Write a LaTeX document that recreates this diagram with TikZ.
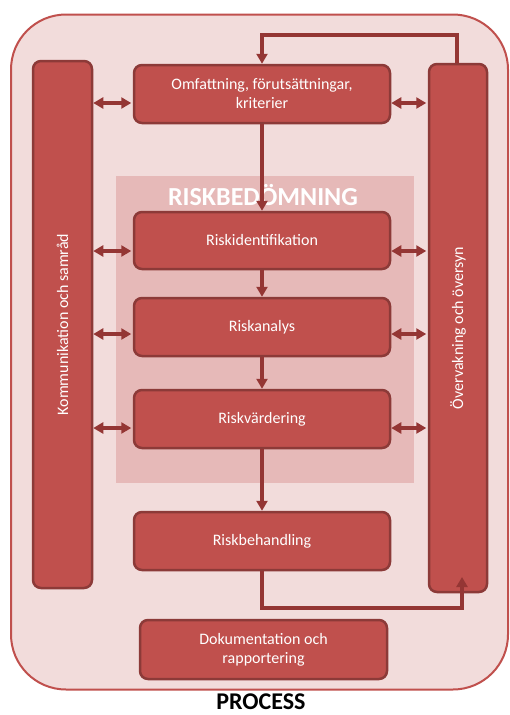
\documentclass[tikz,border=0pt]{standalone}
\usepackage{fontspec}
\setmainfont{Carlito}
\usetikzlibrary{arrows.meta,calc}
\definecolor{boxfill}{HTML}{C0504D}
\definecolor{boxline}{HTML}{8C3A38}
\definecolor{outerfill}{HTML}{F2DCDB}
\definecolor{outerline}{HTML}{C0504D}
\definecolor{areafill}{HTML}{E6B9B8}
\definecolor{arrowcol}{HTML}{943634}
\tikzset{
  stepbox/.style={draw=boxline, line width=2.5pt, fill=boxfill, rounded corners=8pt,
    minimum width=256pt, minimum height=58pt, text=white, align=center,
    font=\fontsize{16}{19}\selectfont, inner sep=0pt},
  colbox/.style={draw=boxline, line width=2.5pt, fill=boxfill, rounded corners=8pt,
    minimum width=59pt, minimum height=527pt, inner sep=0pt},
  collabel/.style={rotate=90, text=white, font=\fontsize{16}{19}\selectfont},
  tip/.tip={Triangle[length=10pt,width=11pt]},
  flow/.style={draw=arrowcol, line width=3.2pt, -tip},
  dbl/.style={draw=arrowcol, line width=3.2pt, tip-tip, shorten >=1.5pt},
}
\begin{document}
\begin{tikzpicture}[x=1pt,y=-1pt]
\useasboundingbox (0,0) rectangle (510,715);
% outer process frame
\node[draw=outerline, line width=2pt, fill=outerfill, rounded corners=55pt,
  minimum width=497pt, minimum height=675pt, inner sep=0pt] (outer) at (259.5,352) {};
% risk assessment area
\node[fill=areafill, minimum width=298pt, minimum height=307pt, inner sep=0pt] (area) at (265,329.5) {};
\node[text=white, font=\fontsize{26}{30}\selectfont\bfseries] (title) at (263,195) {RISKBEDÖMNING};
% columns
\node[colbox] (lc) at (62.5,324.5) {};
\node[collabel] (lclab) at (lc.center) {Kommunikation och samråd};
\node[colbox, minimum width=58pt, minimum height=528pt] (rc) at (458,328) {};
\node[collabel] (rclab) at (rc.center) {Övervakning och översyn};
% step boxes
\node[stepbox] (om) at (262,94) {Omfattning, förutsättningar,\\kriterier};
\node[stepbox, minimum height=57pt] (ri) at (262,240.5) {Riskidentifikation};
\node[stepbox] (ra) at (262,327) {Riskanalys};
\node[stepbox] (rv) at (262,419) {Riskvärdering};
\node[stepbox] (rb) at (262,541) {Riskbehandling};
\node[stepbox, minimum width=247pt, minimum height=59pt] (dok) at (263.5,649.5) {Dokumentation och\\rapportering};
\node[font=\fontsize{24}{28}\selectfont\bfseries, anchor=base, inner sep=0pt] (proc) at (261,709) {PROCESS};
% vertical flow
\draw[flow] (om.south) -- (ri.north);
\draw[flow] (ri.south) -- (ra.north);
\draw[flow] (ra.south) -- (rv.north);
\draw[flow] (rv.south) -- (rb.north);
% feedback loops
\coordinate (topy) at (0,35);
\coordinate (rctop) at (457,0);
\draw[flow] (rctop |- rc.north) -- (rctop |- topy) -- (om.north |- topy) -- (om.north);
\coordinate (boty) at (0,608);
\coordinate (rcin) at (462,577);
\draw[flow] (rb.south) -- (rb.south |- boty) -- (rcin |- boty) -- (rcin);
% double arrows
\foreach \b/\yy in {om/103, ri/251, ra/334, rv/428}{
  \coordinate (y\b) at (0,\yy);
  \draw[dbl] (lc.east |- y\b) -- (\b.west |- y\b);
  \draw[dbl] (\b.east |- y\b) -- (rc.west |- y\b);
}
\end{tikzpicture}
\end{document}
